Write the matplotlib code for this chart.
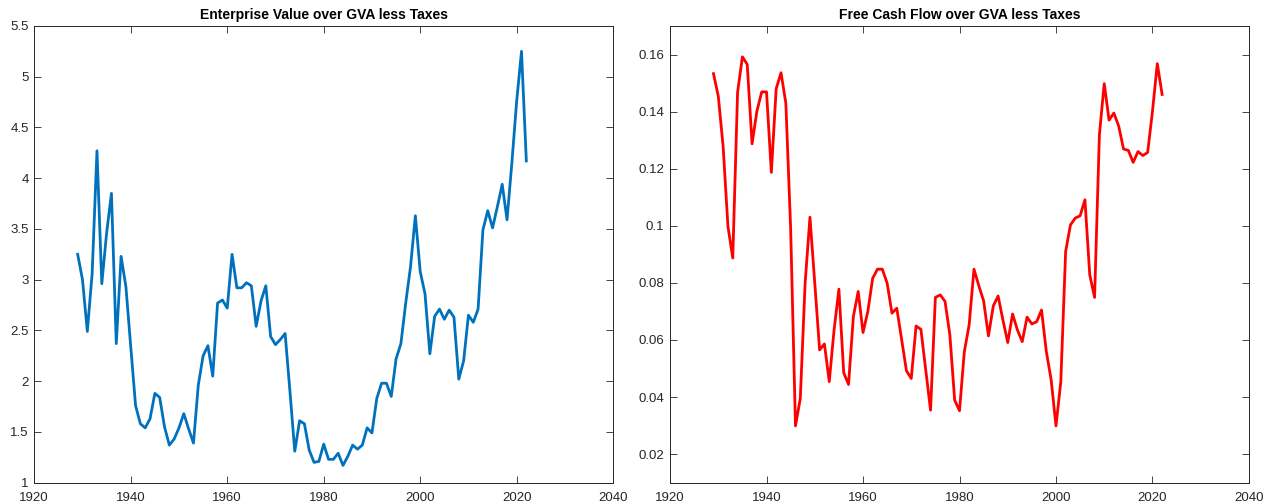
import matplotlib.pyplot as plt
import numpy as np

plt.rcParams['font.family'] = ['Liberation Sans', 'DejaVu Sans']

years = np.arange(1929, 2023)

# Enterprise value / (GVA - taxes)
ev_ratio = [
    3.25, 3.00, 2.49, 3.06, 4.27, 2.96, 3.46, 3.85, 2.37, 3.23,
    2.93, 2.34, 1.76, 1.58, 1.54, 1.63, 1.88, 1.84, 1.55, 1.37,
    1.43, 1.54, 1.68, 1.53, 1.39, 1.96, 2.25, 2.35, 2.05, 2.77,
    2.80, 2.72, 3.25, 2.92, 2.92, 2.97, 2.94, 2.54, 2.79, 2.94,
    2.44, 2.36, 2.41, 2.47, 1.90, 1.31, 1.61, 1.58, 1.32, 1.20,
    1.21, 1.38, 1.23, 1.23, 1.29, 1.17, 1.26, 1.37, 1.33, 1.37,
    1.54, 1.49, 1.83, 1.98, 1.98, 1.85, 2.22, 2.37, 2.77, 3.13,
    3.63, 3.08, 2.86, 2.27, 2.64, 2.71, 2.61, 2.70, 2.63, 2.02,
    2.20, 2.65, 2.58, 2.71, 3.49, 3.68, 3.51, 3.72, 3.94, 3.59,
    4.15, 4.76, 5.25, 4.17,
]

# Free cash flow / (GVA - taxes)
fcf_ratio = [
    0.1533, 0.1454, 0.1278, 0.0998, 0.0887, 0.1468, 0.1592, 0.1565, 0.1287, 0.1401,
    0.1469, 0.1469, 0.1187, 0.1480, 0.1536, 0.1430, 0.0990, 0.0299, 0.0395, 0.0799,
    0.1030, 0.0799, 0.0565, 0.0586, 0.0454, 0.0635, 0.0778, 0.0485, 0.0444, 0.0682,
    0.0770, 0.0626, 0.0700, 0.0816, 0.0848, 0.0848, 0.0799, 0.0694, 0.0711, 0.0602,
    0.0492, 0.0465, 0.0649, 0.0637, 0.0495, 0.0354, 0.0749, 0.0758, 0.0735, 0.0618,
    0.0389, 0.0352, 0.0559, 0.0653, 0.0848, 0.0790, 0.0737, 0.0614, 0.0719, 0.0754,
    0.0670, 0.0591, 0.0691, 0.0635, 0.0594, 0.0680, 0.0656, 0.0664, 0.0705, 0.0559,
    0.0460, 0.0299, 0.0454, 0.0910, 0.1003, 0.1027, 0.1035, 0.1091, 0.0828, 0.0749,
    0.1319, 0.1498, 0.1370, 0.1395, 0.1349, 0.1269, 0.1264, 0.1222, 0.1260, 0.1246,
    0.1257, 0.1401, 0.1568, 0.1460,
]

axis_gray = (0.15, 0.15, 0.15)

fig = plt.figure(figsize=(12.64, 5.03), dpi=100)
ax1 = fig.add_axes([0.0271, 0.0404, 0.458, 0.908])
ax2 = fig.add_axes([0.5301, 0.0404, 0.458, 0.908])

ax1.plot(years, ev_ratio, color='#0072BD', linewidth=2)
ax1.set_xlim(1920, 2040)
ax1.set_ylim(1, 5.5)
ax1.set_yticks(np.arange(1, 5.51, 0.5))
ax1.set_yticklabels(['1', '1.5', '2', '2.5', '3', '3.5', '4', '4.5', '5', '5.5'])
ax1.set_title('Enterprise Value over GVA less Taxes', fontsize=10, fontweight='bold', pad=5)

ax2.plot(years, fcf_ratio, color='red', linewidth=2)
ax2.set_xlim(1920, 2040)
ax2.set_ylim(0.01, 0.17)
ax2.set_yticks([0.02, 0.04, 0.06, 0.08, 0.1, 0.12, 0.14, 0.16])
ax2.set_yticklabels(['0.02', '0.04', '0.06', '0.08', '0.1', '0.12', '0.14', '0.16'])
ax2.set_title('Free Cash Flow over GVA less Taxes', fontsize=10, fontweight='bold', pad=5)

for ax in (ax1, ax2):
    ax.set_xticks(np.arange(1920, 2041, 20))
    ax.tick_params(direction='in', top=True, right=True, length=5, width=0.6,
                   colors=axis_gray, labelsize=9.5)
    ax.tick_params(axis='x', pad=7)
    ax.tick_params(axis='y', pad=4)
    for sp in ax.spines.values():
        sp.set_color(axis_gray)
        sp.set_linewidth(0.7)

fig.savefig('out.png', dpi=100, facecolor='white')
